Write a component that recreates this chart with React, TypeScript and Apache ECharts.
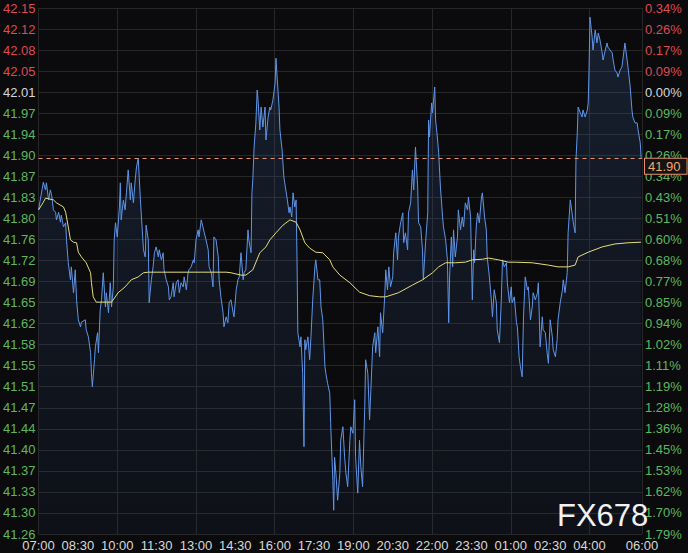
import React, { useEffect, useRef } from "react";
import * as echarts from "echarts";

// ---- tick labels (bottom to top for the value axes) ----
const priceTickLabels = [
  "41.26", "41.30", "41.33", "41.37", "41.40", "41.44", "41.47", "41.51", "41.55",
  "41.58", "41.62", "41.65", "41.69", "41.72", "41.76", "41.80", "41.83", "41.87",
  "41.90", "41.94", "41.97", "42.01", "42.05", "42.08", "42.12", "42.15",
];
const pctTickLabels = [
  "1.79%", "1.70%", "1.62%", "1.53%", "1.45%", "1.36%", "1.28%", "1.19%", "1.11%",
  "1.02%", "0.94%", "0.85%", "0.77%", "0.68%", "0.60%", "0.51%", "0.43%", "0.34%",
  "0.26%", "0.17%", "0.09%", "0.00%", "0.09%", "0.17%", "0.26%", "0.34%",
];
const timeTickLabels = [
  "07:00", "08:30", "10:00", "11:30", "13:00", "14:30", "16:00", "17:30", "19:00",
  "20:30", "22:00", "23:30", "01:00", "02:30", "04:00", "06:00",
];
const baseTickIndex = 21; // 42.01 = previous close (0.00%)
const axisBottomPrice = 41.2585;
const axisStepPrice = 0.0358;
const sessionStartHour = 7;
const sessionLengthMin = 1380;

const lastPrice = 41.898;
const lastPriceLabel = "41.90";

// ---- price ticks: [minutes after 07:00, price] ----
const priceSeries: [number, number][] = [
  [0, 41.81], [11, 41.857], [16, 41.844], [18, 41.856], [23, 41.827], [27, 41.844], [30, 41.835],
  [34, 41.81], [39, 41.806], [41, 41.793], [46, 41.806], [50, 41.789], [52, 41.801], [57, 41.781],
  [62, 41.788], [64, 41.759], [68, 41.72], [73, 41.691], [75, 41.713], [80, 41.669], [84, 41.708],
  [87, 41.657], [91, 41.623], [96, 41.611], [98, 41.619], [107, 41.623], [109, 41.606], [114, 41.594],
  [119, 41.567], [121, 41.532], [123, 41.509], [128, 41.555], [130, 41.577], [135, 41.601], [137, 41.567],
  [141, 41.64], [144, 41.657], [148, 41.703], [153, 41.645], [155, 41.669], [160, 41.635], [164, 41.686],
  [167, 41.645], [171, 41.679], [173, 41.759], [176, 41.788], [180, 41.764], [185, 41.815], [187, 41.856],
  [189, 41.793], [194, 41.827], [198, 41.81], [201, 41.839], [205, 41.878], [210, 41.827], [212, 41.856],
  [217, 41.822], [221, 41.861], [224, 41.883], [228, 41.898], [233, 41.827], [240, 41.742], [244, 41.73],
  [246, 41.784], [251, 41.759], [253, 41.652], [258, 41.691], [262, 41.713], [265, 41.737], [269, 41.747],
  [274, 41.73], [276, 41.742], [281, 41.725], [285, 41.737], [287, 41.708], [292, 41.691], [297, 41.679],
  [299, 41.657], [303, 41.662], [308, 41.686], [310, 41.662], [315, 41.686], [319, 41.691], [322, 41.669],
  [326, 41.686], [331, 41.679], [333, 41.696], [338, 41.674], [342, 41.703], [344, 41.708], [349, 41.713],
  [354, 41.725], [356, 41.72], [360, 41.759], [365, 41.776], [367, 41.764], [372, 41.793], [376, 41.781],
  [379, 41.771], [383, 41.759], [388, 41.742], [390, 41.713], [395, 41.703], [399, 41.679], [401, 41.764],
  [406, 41.759], [411, 41.73], [413, 41.691], [417, 41.662], [422, 41.635], [424, 41.611], [429, 41.628],
  [433, 41.618], [436, 41.652], [440, 41.657], [445, 41.635], [447, 41.628], [452, 41.674], [456, 41.691],
  [459, 41.696], [463, 41.737], [468, 41.691], [470, 41.703], [474, 41.708], [479, 41.776], [481, 41.759],
  [486, 41.737], [488, 41.839], [490, 41.861], [493, 41.917], [497, 41.958], [500, 42.014], [502, 41.997],
  [506, 41.946], [509, 41.985], [513, 41.951], [518, 41.985], [520, 41.929], [525, 41.968], [529, 41.985],
  [531, 41.98], [536, 41.997], [541, 42.026], [543, 42.068], [545, 42.043], [550, 41.985], [552, 41.946],
  [557, 41.912], [561, 41.866], [563, 41.856], [568, 41.832], [573, 41.805], [575, 41.815], [579, 41.798],
  [582, 41.839], [586, 41.815], [589, 41.827], [591, 41.73], [593, 41.601], [598, 41.577], [600, 41.594],
  [604, 41.532], [607, 41.407], [609, 41.589], [611, 41.572], [616, 41.594], [620, 41.555], [623, 41.594],
  [627, 41.657], [632, 41.713], [634, 41.725], [639, 41.691], [643, 41.691], [646, 41.645], [650, 41.623],
  [655, 41.543], [657, 41.532], [661, 41.515], [666, 41.498], [668, 41.447], [673, 41.35], [675, 41.299],
  [677, 41.389], [680, 41.362], [684, 41.316], [689, 41.362], [691, 41.418], [696, 41.441], [700, 41.389],
  [703, 41.362], [707, 41.339], [712, 41.418], [714, 41.441], [719, 41.43], [723, 41.487], [725, 41.389],
  [730, 41.328], [734, 41.418], [737, 41.373], [741, 41.339], [746, 41.475], [748, 41.555], [753, 41.532],
  [757, 41.453], [760, 41.504], [764, 41.577], [769, 41.601], [771, 41.567], [776, 41.611], [780, 41.56],
  [782, 41.635], [787, 41.601], [792, 41.669], [794, 41.708], [798, 41.674], [801, 41.713], [805, 41.679],
  [810, 41.696], [812, 41.737], [817, 41.771], [821, 41.725], [823, 41.764], [828, 41.788], [833, 41.805],
  [835, 41.754], [839, 41.771], [844, 41.742], [846, 41.805], [851, 41.822], [855, 41.878], [858, 41.844],
  [862, 41.917], [867, 41.849], [869, 41.788], [874, 41.781], [878, 41.742], [880, 41.691], [885, 41.754],
  [890, 41.805], [892, 41.963], [894, 41.934], [899, 41.992], [901, 41.975], [906, 42.019], [908, 41.963],
  [912, 41.934], [915, 41.907], [919, 41.849], [924, 41.798], [926, 41.781], [931, 41.759], [935, 41.725],
  [938, 41.618], [940, 41.696], [944, 41.764], [947, 41.713], [949, 41.776], [953, 41.73], [958, 41.764],
  [960, 41.81], [965, 41.776], [969, 41.798], [972, 41.781], [976, 41.822], [981, 41.81], [983, 41.832],
  [988, 41.798], [992, 41.657], [995, 41.742], [997, 41.72], [1001, 41.781], [1004, 41.805], [1008, 41.788],
  [1013, 41.832], [1015, 41.839], [1020, 41.798], [1024, 41.776], [1026, 41.73], [1031, 41.696], [1036, 41.652],
  [1038, 41.628], [1042, 41.674], [1047, 41.652], [1049, 41.606], [1054, 41.584], [1058, 41.652], [1061, 41.725],
  [1065, 41.713], [1070, 41.72], [1072, 41.686], [1077, 41.652], [1081, 41.679], [1083, 41.652], [1088, 41.662],
  [1093, 41.618], [1095, 41.611], [1099, 41.56], [1102, 41.543], [1106, 41.526], [1109, 41.628], [1113, 41.696],
  [1118, 41.674], [1120, 41.679], [1125, 41.623], [1129, 41.645], [1131, 41.669], [1136, 41.657], [1141, 41.669],
  [1143, 41.686], [1147, 41.577], [1152, 41.628], [1154, 41.606], [1159, 41.601], [1163, 41.567], [1166, 41.549],
  [1170, 41.623], [1175, 41.594], [1177, 41.572], [1182, 41.56], [1186, 41.589], [1188, 41.623], [1193, 41.652],
  [1198, 41.674], [1200, 41.691], [1204, 41.669], [1209, 41.703], [1211, 41.771], [1216, 41.827], [1220, 41.805],
  [1223, 41.788], [1227, 41.771], [1229, 41.895], [1232, 41.941], [1234, 41.985], [1239, 41.975], [1243, 41.968],
  [1245, 41.98], [1250, 41.968], [1255, 41.98], [1257, 41.992], [1259, 42.053], [1261, 42.138], [1266, 42.104],
  [1268, 42.082], [1273, 42.116], [1277, 42.094], [1280, 42.111], [1284, 42.099], [1289, 42.077], [1291, 42.065],
  [1296, 42.082], [1300, 42.094], [1302, 42.087], [1307, 42.082], [1312, 42.077], [1314, 42.065], [1318, 42.048],
  [1323, 42.043], [1325, 42.036], [1330, 42.048], [1334, 42.053], [1337, 42.07], [1341, 42.094], [1346, 42.065],
  [1348, 42.053], [1353, 42.019], [1357, 41.98], [1359, 41.968], [1364, 41.958], [1369, 41.958], [1371, 41.946],
  [1376, 41.924], [1378, 41.898],
];

// ---- moving average: [minutes after 07:00, price] ----
const maSeries: [number, number][] = [
  [0, 41.81], [11, 41.823], [16, 41.83], [34, 41.827], [41, 41.822], [57, 41.815], [62, 41.806],
  [68, 41.781], [73, 41.759], [80, 41.755], [87, 41.754], [91, 41.738], [98, 41.73], [109, 41.72],
  [119, 41.703], [121, 41.686], [125, 41.662], [132, 41.653], [167, 41.653], [182, 41.669], [198, 41.679],
  [212, 41.691], [228, 41.696], [240, 41.703], [251, 41.704], [303, 41.704], [372, 41.704], [429, 41.704],
  [440, 41.703], [463, 41.699], [474, 41.699], [490, 41.708], [506, 41.737], [520, 41.747], [529, 41.759],
  [543, 41.771], [559, 41.784], [575, 41.793], [589, 41.789], [598, 41.776], [609, 41.754], [620, 41.745],
  [634, 41.738], [650, 41.737], [666, 41.725], [673, 41.713], [689, 41.699], [712, 41.686], [734, 41.67],
  [757, 41.664], [780, 41.662], [794, 41.662], [823, 41.669], [855, 41.682], [878, 41.691], [901, 41.703],
  [915, 41.713], [931, 41.72], [953, 41.72], [976, 41.721], [992, 41.725], [1015, 41.726], [1029, 41.728],
  [1052, 41.725], [1074, 41.721], [1090, 41.721], [1129, 41.72], [1166, 41.716], [1188, 41.713], [1211, 41.713],
  [1227, 41.716], [1234, 41.73], [1257, 41.738], [1289, 41.747], [1318, 41.752], [1348, 41.754], [1378, 41.755],
];

const FONT = '"Liberation Sans", Arial, Helvetica, sans-serif';
const toAxis = (p: number) => (p - axisBottomPrice) / axisStepPrice;

const fmtTime = (v: number) => {
  const total = sessionStartHour * 60 + Math.round(v);
  const h = Math.floor(total / 60) % 24;
  const m = total % 60;
  const s = `${String(h).padStart(2, "0")}:${String(m).padStart(2, "0")}`;
  return timeTickLabels.includes(s) ? s : "";
};

const tickLabel = (labels: string[]) => (v: number) => {
  const i = Math.round(v);
  const t = labels[i];
  if (t === undefined) return "";
  const k = i > baseTickIndex ? "up" : i === baseTickIndex ? "flat" : "dn";
  return `{${k}|${t}}`;
};

const richColors = {
  up: { color: "#dc4a52", fontSize: 13, fontFamily: FONT },
  flat: { color: "#d6d6d6", fontSize: 13, fontFamily: FONT },
  dn: { color: "#5db75f", fontSize: 13, fontFamily: FONT },
};

export default function App() {
  const ref = useRef<HTMLDivElement>(null);
  useEffect(() => {
    document.body.style.margin = "0";
    document.body.style.background = "#0b0b0d";
    if (!ref.current) return;
    const chart = echarts.init(ref.current, undefined, { renderer: "svg" });
    const gridColor = "#272727";
    chart.setOption({
      animation: false,
      backgroundColor: "#0b0b0d",
      grid: { left: 37, right: 46, top: 8, bottom: 19, containLabel: false },
      xAxis: [
        {
          type: "value",
          min: 0,
          max: sessionLengthMin,
          interval: 90,
          axisLine: { show: false },
          axisTick: { show: false },
          splitLine: { show: false },
          axisLabel: {
            color: "#d8d8d8",
            fontSize: 13,
            fontFamily: FONT,
            margin: 5,
            formatter: fmtTime,
            showMinLabel: true,
            showMaxLabel: true,
          },
        },
        {
          type: "value",
          min: 0,
          max: sessionLengthMin,
          interval: 180,
          position: "bottom",
          axisLine: { show: false },
          axisTick: { show: false },
          axisLabel: { show: false },
          splitLine: { show: true, lineStyle: { color: gridColor, width: 1 } },
        },
      ],
      yAxis: [
        {
          type: "value",
          position: "left",
          min: 0,
          max: priceTickLabels.length - 1,
          interval: 1,
          axisLine: { show: false },
          axisTick: { show: false },
          splitLine: { show: true, lineStyle: { color: gridColor, width: 1 } },
          axisLabel: { margin: 3, formatter: tickLabel(priceTickLabels), rich: richColors },
        },
        {
          type: "value",
          position: "right",
          min: 0,
          max: pctTickLabels.length - 1,
          interval: 1,
          axisLine: { show: false },
          axisTick: { show: false },
          splitLine: { show: false },
          axisLabel: { margin: 3, formatter: tickLabel(pctTickLabels), rich: richColors },
        },
      ],
      graphic: [
        {
          type: "text",
          left: 557,
          top: 500,
          z: 100,
          style: {
            text: "FX678",
            fill: "#f2f2f2",
            font: `31px ${FONT}`,
          },
        },
      ],
      series: [
        {
          type: "line",
          xAxisIndex: 0,
          yAxisIndex: 0,
          data: priceSeries.map(([m, p]) => [m, toAxis(p)]),
          symbol: "none",
          showSymbol: false,
          lineStyle: { color: "#5f95e8", width: 1 },
          areaStyle: {
            origin: "start",
            color: new echarts.graphic.LinearGradient(0, 0, 0, 1, [
              { offset: 0, color: "rgba(70,110,175,0.30)" },
              { offset: 1, color: "rgba(40,70,125,0.14)" },
            ]),
          },
          markLine: {
            silent: true,
            symbol: "none",
            lineStyle: { color: "#e8906a", type: [4, 4], width: 1 },
            label: {
              show: true,
              position: "end",
              distance: 3,
              offset: [0, 8],
              formatter: lastPriceLabel,
              color: "#f2a870",
              fontSize: 13,
              fontFamily: FONT,
              backgroundColor: "#141414",
              borderColor: "#e8906a",
              borderWidth: 1,
              padding: [1, 6, 1, 3],
            },
            data: [{ yAxis: toAxis(lastPrice) }],
          },
        },
        {
          type: "line",
          xAxisIndex: 0,
          yAxisIndex: 0,
          data: maSeries.map(([m, p]) => [m, toAxis(p)]),
          symbol: "none",
          showSymbol: false,
          lineStyle: { color: "#e4de7a", width: 1 },
        },
      ],
    });
    return () => chart.dispose();
  }, []);
  return <div ref={ref} style={{ width: 688, height: 553, background: "#0b0b0d" }} />;
}
